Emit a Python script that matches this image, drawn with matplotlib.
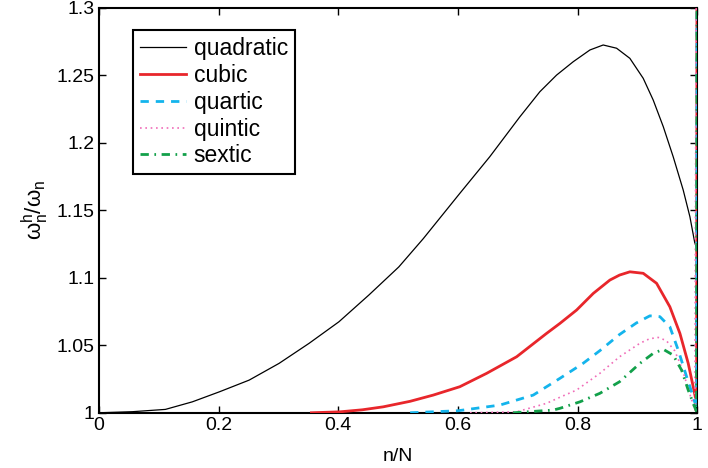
import matplotlib
matplotlib.use("Agg")
from matplotlib import pyplot as plt

plt.rcParams["font.family"] = ["Liberation Sans", "DejaVu Sans"]
plt.rcParams["mathtext.fontset"] = "custom"
plt.rcParams["mathtext.rm"] = "Liberation Sans"
plt.rcParams["mathtext.it"] = "Liberation Sans:italic"

# values (n/N, omega_h/omega); last point is the outlier jump at n/N = 1
quad_x = [0.0, 0.056, 0.111, 0.156, 0.2017, 0.251, 0.301, 0.351, 0.401, 0.451, 0.501,
          0.542, 0.603, 0.653, 0.703, 0.7368, 0.7647, 0.7925, 0.8204, 0.8426, 0.865,
          0.8872, 0.9095, 0.9262, 0.943, 0.9596, 0.9763, 0.9875, 0.9958, 0.999, 1.0]
quad_y = [1.0, 1.0008, 1.0025, 1.0081, 1.0156, 1.0242, 1.0366, 1.0514, 1.0674, 1.0872, 1.108,
          1.129, 1.1625, 1.1896, 1.219, 1.2378, 1.2501, 1.26, 1.2687, 1.2724, 1.27,
          1.2625, 1.2477, 1.2316, 1.2119, 1.1896, 1.165, 1.1452, 1.1255, 1.1227, 1.6]

cub_x = [0.355, 0.4027, 0.44, 0.475, 0.52, 0.5586, 0.603, 0.6478, 0.698, 0.748,
         0.7703, 0.7982, 0.826, 0.8538, 0.87, 0.8872, 0.9095, 0.9318, 0.954, 0.9708,
         0.9847, 0.993, 0.9987, 1.0]
cub_y = [1.0, 1.0007, 1.0022, 1.0044, 1.0085, 1.0131, 1.0193, 1.0292, 1.0415, 1.0588,
         1.0662, 1.0761, 1.0884, 1.0983, 1.102, 1.1044, 1.1033, 1.0959, 1.0785, 1.0588,
         1.0366, 1.0193, 1.007, 1.6]

quart_x = [0.52, 0.6, 0.67, 0.7257, 0.7703, 0.809, 0.837, 0.87, 0.898, 0.9206, 0.9373,
           0.954, 0.968, 0.982, 0.993, 0.9987, 1.0]
quart_y = [1.0, 1.0015, 1.0057, 1.0131, 1.0255, 1.0366, 1.046, 1.058, 1.0665, 1.0718,
           1.0712, 1.0637, 1.0464, 1.0267, 1.0119, 1.0033, 1.6]

quint_x = [0.62, 0.698, 0.748, 0.7703, 0.798, 0.837, 0.87, 0.904, 0.92, 0.9345, 0.948,
           0.962, 0.971, 0.9785, 0.985, 0.991, 0.9958, 1.0]
quint_y = [1.0, 1.0007, 1.007, 1.0115, 1.0168, 1.0292, 1.0415, 1.0515, 1.0548, 1.0558,
           1.0535, 1.046, 1.0366, 1.027, 1.0168, 1.009, 1.002, 1.6]

sext_x = [0.692, 0.759, 0.7703, 0.8037, 0.837, 0.87, 0.904, 0.9262, 0.943, 0.9596,
          0.9736, 0.9847, 0.993, 0.9987, 1.0]
sext_y = [1.0, 1.002, 1.0033, 1.0081, 1.0144, 1.023, 1.0366, 1.044, 1.047, 1.0427,
          1.0316, 1.0168, 1.007, 1.0007, 1.6]

x_ticks = [0, 0.2, 0.4, 0.6, 0.8, 1]
x_labels = ["0", "0.2", "0.4", "0.6", "0.8", "1"]
y_ticks = [1, 1.05, 1.1, 1.15, 1.2, 1.25, 1.3]
y_labels = ["1", "1.05", "1.1", "1.15", "1.2", "1.25", "1.3"]

fig = plt.figure(figsize=(7.08, 4.68), dpi=100)
ax = fig.add_axes([0.1398, 0.118, 0.8452, 0.8655])

# lines drawn over the frame like matlab does
ax.plot(quad_x, quad_y, color="black", lw=0.9, label="quadratic", zorder=3)
ax.plot(cub_x, cub_y, color="#e8262b", lw=2.0, label="cubic", zorder=3)
ax.plot(quart_x, quart_y, color="#14b4ec", lw=2.0, ls=(0, (3, 2.5)), label="quartic", zorder=3)
ax.plot(quint_x, quint_y, color="#f06cb8", lw=1.2, ls=(0, (1, 2.2)), label="quintic", zorder=3)
ax.plot(sext_x, sext_y, color="#12a04a", lw=2.0, ls=(0, (3, 2, 0.6, 2)), label="sextic", zorder=3)

ax.set_xlim(0, 1)
ax.set_ylim(1, 1.3)
ax.set_xticks(x_ticks)
ax.set_xticklabels(x_labels)
ax.set_yticks(y_ticks)
ax.set_yticklabels(y_labels)
ax.tick_params(direction="in", length=5, width=1, top=True, right=True, labelsize=14, pad=3)
for s in ax.spines.values():
    s.set_linewidth(1.5)

ax.set_xlabel("n/N", fontsize=14, labelpad=10)
ax.set_ylabel(r"$\mathregular{\omega_n^h/\omega_n}$", fontsize=16, labelpad=4)

leg = ax.legend(loc="upper left", bbox_to_anchor=(0.057, 0.945), borderaxespad=0,
                fontsize=16.5, handlelength=2.0, labelspacing=0.17, fancybox=False,
                framealpha=1, edgecolor="black", borderpad=0.3, handletextpad=0.35)
leg.get_frame().set_linewidth(1.5)
leg.set_zorder(5)

fig.savefig("out.png", dpi=100)
